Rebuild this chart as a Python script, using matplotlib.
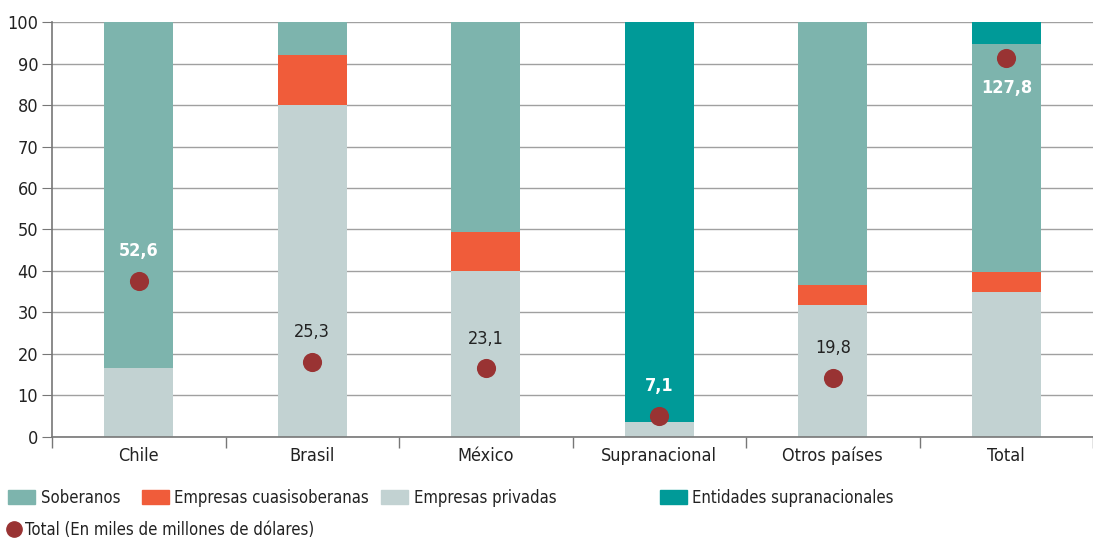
import numpy as np
import matplotlib.pyplot as plt
from matplotlib.patches import Patch
from matplotlib.lines import Line2D

plt.rcParams["font.family"] = ["DejaVu Sans"]
plt.rcParams["font.stretch"] = "condensed"
plt.rcParams["font.size"] = 13

# data
categories = ["Chile", "Brasil", "México", "Supranacional", "Otros países", "Total"]
privadas = [16.5, 80.0, 40.0, 3.5, 31.8, 35.0]
cuasi = [0.0, 12.0, 9.5, 0.0, 4.8, 4.8]
soberanos = [83.5, 8.0, 50.5, 0.0, 63.4, 55.0]
supra = [0.0, 0.0, 0.0, 96.5, 0.0, 5.2]
totals = [52.6, 25.3, 23.1, 7.1, 19.8, 127.8]
total_labels = ["52,6", "25,3", "23,1", "7,1", "19,8", "127,8"]
series_names = ["Soberanos", "Empresas cuasisoberanas", "Empresas privadas",
                "Entidades supranacionales"]
dot_name = "Total (En miles de millones de dólares)"

c_sob = "#7DB4AD"
c_cua = "#F05C3A"
c_pri = "#C2D2D2"
c_sup = "#009A98"
c_dot = "#993333"
c_txt = "#222222"

fig = plt.figure(figsize=(10.93, 5.40), dpi=100)
ax = fig.add_axes([0.0476, 0.191, 0.9524, 0.768])

x = np.arange(len(categories))
w = 0.4
privadas = np.array(privadas)
cuasi = np.array(cuasi)
soberanos = np.array(soberanos)
supra = np.array(supra)

ax.bar(x, privadas, w, color=c_pri, zorder=2)
ax.bar(x, cuasi, w, bottom=privadas, color=c_cua, zorder=2)
ax.bar(x, soberanos, w, bottom=privadas + cuasi, color=c_sob, zorder=2)
ax.bar(x, supra, w, bottom=privadas + cuasi + soberanos, color=c_sup, zorder=2)

ax.set_ylim(0, 100)
ax.set_xlim(-0.5, 5.45)
ax.set_yticks(range(0, 101, 10))
ax.yaxis.grid(True, color="#a0a0a0", linewidth=1)
ax.set_axisbelow(True)
ax.set_xticks(x)
ax.set_xticklabels(categories)
ax.set_xticks(np.arange(-0.5, 6, 1), minor=True)
ax.tick_params(axis="x", which="major", length=0, pad=7, labelsize=13, labelcolor=c_txt)
ax.tick_params(axis="x", which="minor", length=8, color="#777777", width=1)
ax.tick_params(axis="y", length=7, color="#777777", labelsize=13, labelcolor=c_txt, pad=3)
for s in ["top", "right"]:
    ax.spines[s].set_visible(False)
for s in ["left", "bottom"]:
    ax.spines[s].set_color("#777777")
    ax.spines[s].set_linewidth(1.2)

# totals on hidden secondary scale
ax2 = ax.twinx()
ax2.set_ylim(0, 140)
ax2.axis("off")
ax2.scatter(x, totals, s=190, color=c_dot, zorder=3, linewidths=0)
for i, (t, lab) in enumerate(zip(totals, total_labels)):
    if i in (0, 3):
        ax2.annotate(lab, (i, t), xytext=(0, 21.5), textcoords="offset points",
                     ha="center", va="center", color="white", fontweight="bold")
    elif i == 5:
        ax2.annotate(lab, (i, t), xytext=(0, -21.5), textcoords="offset points",
                     ha="center", va="center", color="white", fontweight="bold")
    else:
        ax2.annotate(lab, (i, t), xytext=(0, 21.5), textcoords="offset points",
                     ha="center", va="center", color=c_txt)

# legend entries placed like the reference
colors = [c_sob, c_cua, c_pri, c_sup]
xpos = [8, 142, 381, 660]
for name, col, px in zip(series_names, colors, xpos):
    fig.legend(handles=[Patch(color=col, label=name)], loc="center left",
               bbox_to_anchor=(px / 1093, 0.078), frameon=False, fontsize=12,
               handlelength=1.6, handleheight=0.9, handletextpad=0.35,
               borderaxespad=0, borderpad=0, labelcolor=c_txt)
dot = Line2D([], [], marker="o", linestyle="none", color=c_dot, markersize=11,
             label=dot_name)
fig.legend(handles=[dot], loc="center left", bbox_to_anchor=(7 / 1093, 0.019),
           frameon=False, fontsize=12, handlelength=0.8, handletextpad=0.3,
           borderaxespad=0, borderpad=0, labelcolor=c_txt)

fig.savefig("out.png", dpi=100)
